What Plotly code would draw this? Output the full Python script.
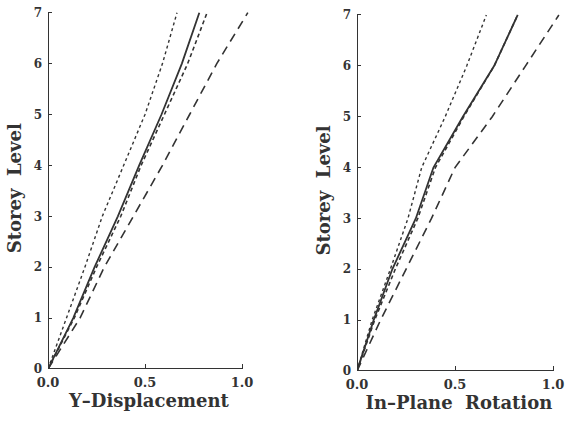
import plotly.graph_objects as go

storeys = [0, 1, 2, 3, 4, 5, 6, 7]

# Left panel: Y-Displacement
disp_dotted = [0, 0.097, 0.19, 0.28, 0.39, 0.50, 0.59, 0.665]
disp_solid = [0, 0.13, 0.24, 0.36, 0.47, 0.585, 0.69, 0.78]
disp_shortdash = [0, 0.135, 0.25, 0.375, 0.48, 0.60, 0.72, 0.82]
disp_longdash = [0, 0.165, 0.29, 0.44, 0.59, 0.73, 0.87, 1.03]

# Right panel: In-Plane Rotation
rot_dotted = [0, 0.077, 0.17, 0.26, 0.33, 0.45, 0.56, 0.66]
rot_solid = [0, 0.085, 0.18, 0.30, 0.39, 0.54, 0.70, 0.82]
rot_shortdash = [0, 0.09, 0.195, 0.31, 0.40, 0.545, 0.70, 0.82]
rot_longdash = [0, 0.12, 0.25, 0.38, 0.50, 0.69, 0.86, 1.03]

x_ticks = [0.0, 0.5, 1.0]
x_ticklabels = ["0.0", "0.5", "1.0"]
y_ticks = [0, 1, 2, 3, 4, 5, 6, 7]

C = "#333333"
FONT = "DejaVu Serif"

styles = [
    ("dot", 1.4),
    ("solid", 1.8),
    ("4px,3px", 1.6),
    ("9px,6px", 1.6),
]

fig = go.Figure()
panels = [
    ([disp_dotted, disp_solid, disp_shortdash, disp_longdash], "x", "y"),
    ([rot_dotted, rot_solid, rot_shortdash, rot_longdash], "x2", "y2"),
]
for series, xa, ya in panels:
    for vals, (dash, w) in zip(series, styles):
        fig.add_trace(go.Scatter(x=vals, y=storeys, mode="lines",
                                 line=dict(color=C, width=w, dash=dash),
                                 xaxis=xa, yaxis=ya, showlegend=False,
                                 hoverinfo="skip"))

W, H = 565, 421
def dom_x(x0px, ppu, rng):
    return [x0px / W, (x0px + ppu * rng) / W]

XR = 1.04
YR = 7.1
xcommon = dict(range=[0, XR], tickvals=x_ticks, ticktext=x_ticklabels,
               ticks="inside", ticklen=5, tickwidth=1.3, tickcolor=C,
               showline=False, showgrid=False, zeroline=False, automargin=False,
               ticklabelstandoff=4,
               tickfont=dict(family=FONT, size=13, color=C, weight="bold"))
ycommon = dict(range=[0, YR], tickvals=y_ticks, ticks="inside", ticklen=4,
               tickwidth=1.3, tickcolor=C, showline=False, showgrid=False,
               zeroline=False, automargin=False, ticklabelstandoff=5,
               tickfont=dict(family=FONT, size=12, color=C, weight="bold"))
tfont = dict(family=FONT, size=18, color=C, weight="bold")

fig.update_layout(
    width=W, height=H, margin=dict(l=0, r=0, t=0, b=0),
    paper_bgcolor="white", plot_bgcolor="white",
    xaxis=dict(domain=dom_x(48, 194, XR), anchor="y",
               title=dict(text="Y\u2013Displacement", font=tfont, standoff=5),
               **xcommon),
    yaxis=dict(domain=[1 - 369 / H, 1 - (369 - 50.9 * YR) / H], anchor="x",
               title=dict(text="Storey  Level", font=tfont, standoff=7),
               **ycommon),
    xaxis2=dict(domain=dom_x(357, 196, XR), anchor="y2",
                title=dict(text="In\u2013Plane  Rotation", font=tfont, standoff=5),
                **xcommon),
    yaxis2=dict(domain=[1 - 371 / H, 1 - (371 - 50.86 * YR) / H], anchor="x2",
                title=dict(text="Storey  Level", font=tfont, standoff=7),
                **ycommon),
)

for xr, yr in [("x", "y"), ("x2", "y2")]:
    fig.add_shape(type="line", xref=xr, yref=yr, x0=0, y0=0, x1=0, y1=7,
                  line=dict(color=C, width=2))
    fig.add_shape(type="line", xref=xr, yref=yr, x0=0, y0=0, x1=1.0, y1=0,
                  line=dict(color=C, width=2))

fig.write_html("out.html")
